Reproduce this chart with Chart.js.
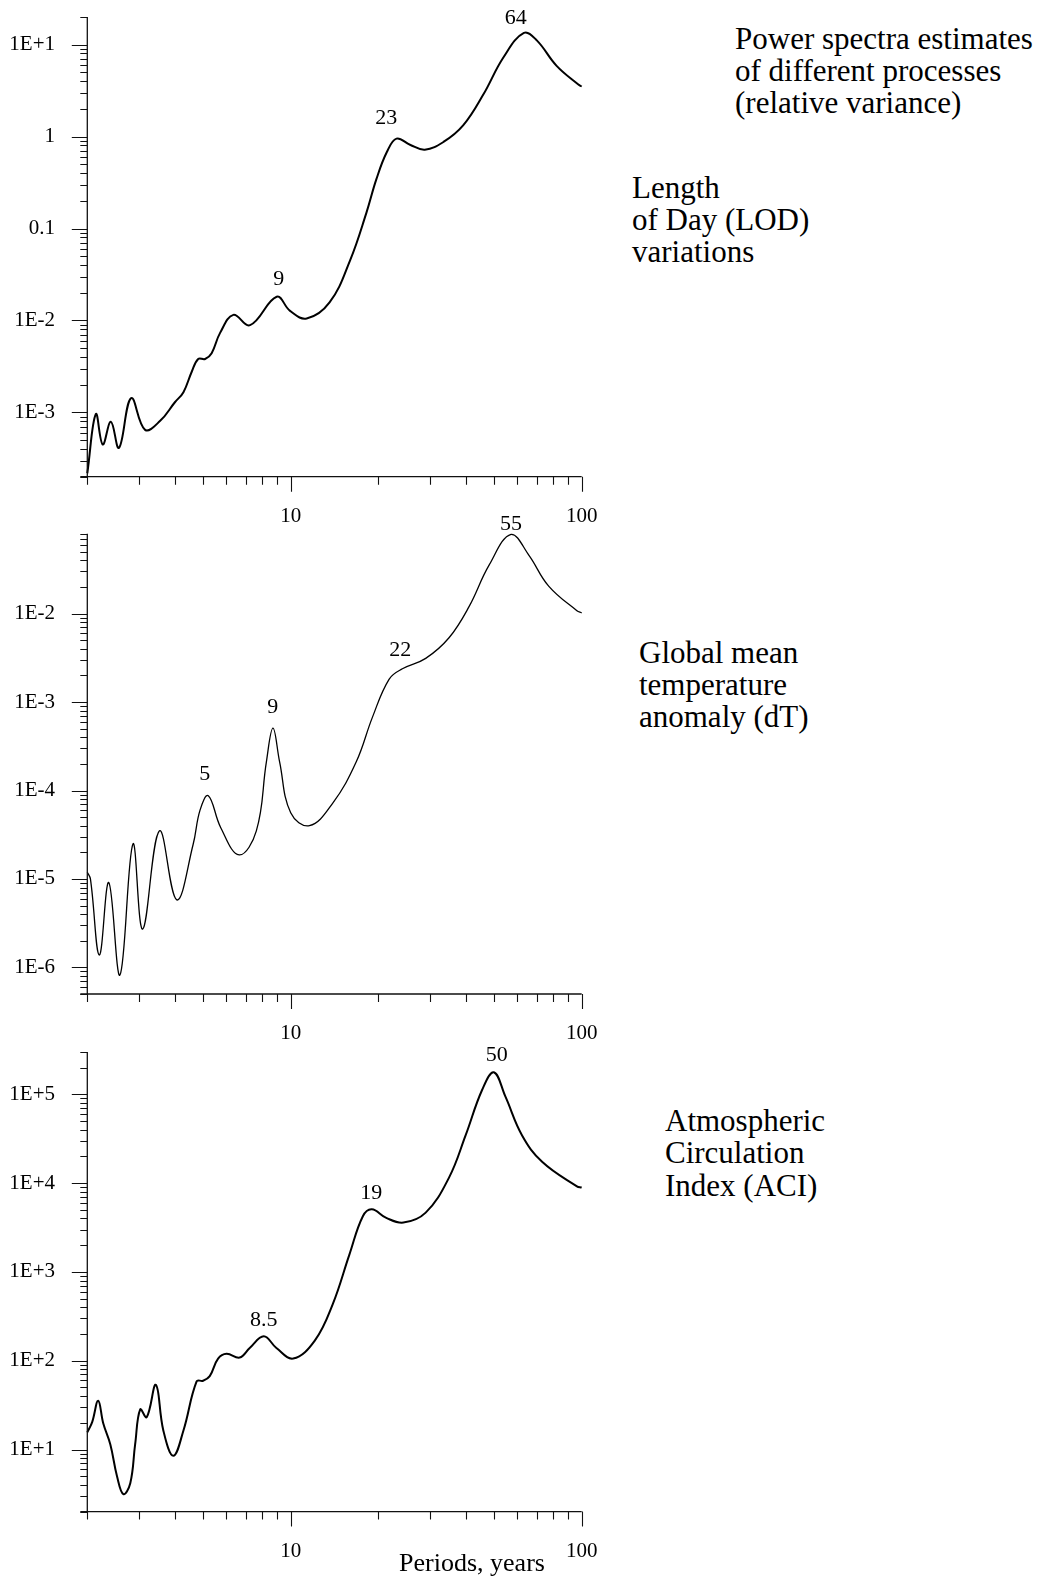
<!DOCTYPE html>
<html>
<head>
<meta charset="utf-8">
<title>Power spectra estimates</title>
<script src="https://cdn.jsdelivr.net/npm/chart.js@4.4.1/dist/chart.umd.min.js"></script>
<style>
  html, body { margin: 0; padding: 0; background: #fff; }
  #page {
    position: relative;
    width: 1045px;
    height: 1580px;
    overflow: hidden;
    font-family: 'Liberation Serif', 'Times New Roman', serif;
    color: #000;
  }
  #page canvas { position: absolute; left: 0; }
  .note { position: absolute; font-size: 31px; line-height: 32.3px; white-space: nowrap; }
  .axis-title { position: absolute; width: 240px; text-align: center; font-size: 26px; line-height: 30px; white-space: nowrap; }
</style>
</head>
<body>
<div id="page">
  <canvas id="lodChart" width="620" height="540" style="top:0px"></canvas>
  <canvas id="dtChart" width="620" height="560" style="top:500px"></canvas>
  <canvas id="aciChart" width="620" height="550" style="top:1030px"></canvas>

  <div class="note" style="left:735px; top:22.6px">Power spectra estimates<br>of different processes<br>(relative variance)</div>
  <div class="note" style="left:632px; top:171.6px">Length<br>of Day (LOD)<br>variations</div>
  <div class="note" style="left:639px; top:636.6px">Global mean<br>temperature<br>anomaly (dT)</div>
  <div class="note" style="left:665px; top:1105px">Atmospheric<br>Circulation<br>Index (ACI)</div>
  <div class="axis-title" style="left:352px; top:1548px">Periods, years</div>
</div>

<script>
// Shared x axis (periods, years)
const periodTicks = [10, 100];
const periodTickLabels = ['10', '100'];

// Length of Day (LOD) variations
const lodPeriods = [2.0, 2.14, 2.26, 2.41, 2.57, 2.83, 3.16, 3.56, 4.0, 4.28, 4.57, 4.81, 5.08, 5.35, 5.72, 6.35, 7.25, 8.95, 9.95, 11.35, 13.6, 16.0, 18.2, 19.7, 21.4, 23.1, 25.7, 28.9, 33.5, 39.2, 45.9, 53.8, 63.3, 70.1, 82.0, 97.4, 100];
const lodValues = [2.18e-4, 9.6e-4, 4.48e-4, 7.9e-4, 4.12e-4, 1.43e-3, 6.46e-4, 8.1e-4, 1.29e-3, 1.66e-3, 2.77e-3, 3.81e-3, 3.81e-3, 4.41e-3, 7.33e-3, 1.15e-2, 8.89e-3, 1.81e-2, 1.27e-2, 1.05e-2, 1.57e-2, 4.51e-2, 0.148, 0.344, 0.678, 0.95, 0.815, 0.72, 0.873, 1.33, 2.86, 7.24, 13.4, 11.1, 5.87, 3.68, 3.5];
const lodTicks = [10, 1, 0.1, 0.01, 0.001];
const lodTickLabels = ['1E+1', '1', '0.1', '1E-2', '1E-3'];
const lodPeakLabels = ['9', '23', '64'];
const lodPeakPeriods = [9.09, 21.3, 59.4];
const lodPeakValues = [0.0278, 1.57, 19.3];

// Global mean temperature anomaly (dT)
const dtPeriods = [2.0, 2.05, 2.2, 2.37, 2.59, 2.87, 3.1, 3.54, 4.06, 4.62, 4.88, 5.21, 5.75, 6.65, 7.62, 8.25, 8.69, 9.16, 10.0, 11.6, 13.95, 16.8, 19.1, 21.8, 24.2, 29.1, 35.0, 41.0, 48.0, 57.2, 65.8, 77.0, 96.3, 100];
const dtValues = [1.19e-5, 1.0e-5, 1.38e-6, 9.1e-6, 8.2e-7, 2.49e-5, 2.71e-6, 3.5e-5, 5.8e-6, 2.45e-5, 6.0e-5, 8.75e-5, 3.8e-5, 1.87e-5, 3.5e-5, 2.11e-4, 5.07e-4, 2.11e-4, 5.6e-5, 4.0e-5, 7.2e-5, 2.11e-4, 6.76e-4, 1.82e-3, 2.38e-3, 3.12e-3, 5.34e-3, 1.2e-2, 3.51e-2, 7.89e-2, 4.6e-2, 2.05e-2, 1.08e-2, 1.02e-2];
const dtTicks = [1e-2, 1e-3, 1e-4, 1e-5, 1e-6];
const dtTickLabels = ['1E-2', '1E-3', '1E-4', '1E-5', '1E-6'];
const dtPeakLabels = ['5', '9', '22', '55'];
const dtPeakPeriods = [5.07, 8.67, 23.8, 57.1];
const dtPeakValues = [1.54e-4, 8.86e-4, 3.9e-3, 0.1014];

// Atmospheric Circulation Index (ACI)
const aciPeriods = [2.0, 2.08, 2.18, 2.27, 2.4, 2.53, 2.66, 2.81, 2.92, 3.04, 3.2, 3.44, 3.65, 3.95, 4.28, 4.75, 5.0, 5.27, 5.63, 6.02, 6.68, 7.23, 8.08, 8.93, 10.2, 12.1, 13.95, 15.9, 17.7, 19.0, 21.3, 24.4, 29.1, 35.0, 39.9, 45.5, 49.9, 54.7, 62.4, 73.1, 96.3, 100];
const aciValues = [15.6, 20.5, 35.4, 19.6, 11.4, 5.0, 3.15, 4.17, 11.4, 28.3, 23.1, 53.5, 16.4, 8.5, 16.4, 58.6, 59.5, 67.1, 105.7, 119.5, 108.6, 139, 188, 139, 105.7, 168, 434, 1556, 4236, 5082, 4058, 3590, 4645, 11530, 34400, 112500, 177000, 93900, 34400, 17400, 9200, 8900];
const aciTicks = [1e5, 1e4, 1e3, 1e2, 1e1];
const aciTickLabels = ['1E+5', '1E+4', '1E+3', '1E+2', '1E+1'];
const aciPeakLabels = ['8.5', '19', '50'];
const aciPeakPeriods = [8.08, 18.9, 51.1];
const aciPeakValues = [288, 7650, 2.75e5];

const FONT = "'Liberation Serif', 'Times New Roman', serif";
const CANVAS_W = 620;
const AXIS_LEFT = 87.3;
const AXIS_RIGHT = 581.7;

// every 1..9 x 10^n value inside [min, max]
function logSteps(min, max) {
  const out = [];
  const e0 = Math.floor(Math.log10(min)) - 1;
  const e1 = Math.ceil(Math.log10(max)) + 1;
  for (let e = e0; e <= e1; e++) {
    for (let m = 1; m <= 9; m++) {
      const v = Number((m * Math.pow(10, e)).toPrecision(12));
      if (v >= min * (1 - 1e-9) && v <= max * (1 + 1e-9)) out.push(v);
    }
  }
  return out;
}

function isDecade(v) {
  const l = Math.log10(v);
  return Math.abs(l - Math.round(l)) < 1e-9;
}

// Axis lines, major/minor tick marks and peak annotations
const axisDecor = {
  id: 'axisDecor',
  afterDraw(chart, args, opts) {
    const { ctx, chartArea: a, scales: { x, y } } = chart;
    ctx.save();
    ctx.strokeStyle = '#111';
    ctx.lineWidth = 1.3;
    ctx.beginPath();
    ctx.moveTo(a.left, a.top);
    ctx.lineTo(a.left, a.bottom);
    ctx.moveTo(a.left - 7, a.bottom);
    ctx.lineTo(a.right, a.bottom);
    ctx.stroke();

    ctx.lineWidth = 1.1;
    ctx.beginPath();
    logSteps(y.min, y.max).forEach(v => {
      const py = Math.round(y.getPixelForValue(v)) + 0.5;
      const len = isDecade(v) ? 15.5 : 7;
      ctx.moveTo(a.left - len, py);
      ctx.lineTo(a.left, py);
    });
    logSteps(x.min, x.max).forEach(v => {
      const px = Math.round(x.getPixelForValue(v)) + 0.5;
      const len = isDecade(v) ? 15 : 8;
      ctx.moveTo(px, a.bottom);
      ctx.lineTo(px, a.bottom + len);
    });
    ctx.stroke();

    ctx.fillStyle = '#000';
    ctx.font = '22px ' + FONT;
    ctx.textAlign = 'center';
    ctx.textBaseline = 'middle';
    opts.labels.forEach((txt, i) => {
      ctx.fillText(txt, x.getPixelForValue(opts.periods[i]), y.getPixelForValue(opts.values[i]));
    });
    ctx.restore();
  }
};

function makeChart(canvasId, cfg) {
  const points = cfg.periods.map((p, i) => ({ x: p, y: cfg.values[i] }));
  return new Chart(document.getElementById(canvasId), {
    type: 'line',
    data: {
      datasets: [{
        data: points,
        borderColor: '#000',
        borderWidth: cfg.lineWidth,
        pointRadius: 0,
        tension: 0.4,
        fill: false,
        clip: false
      }]
    },
    options: {
      responsive: false,
      animation: false,
      events: [],
      layout: {
        autoPadding: false,
        padding: { top: cfg.areaTop, left: 0, right: CANVAS_W - AXIS_RIGHT, bottom: 0 }
      },
      plugins: {
        legend: { display: false },
        tooltip: { enabled: false },
        axisDecor: { labels: cfg.peakLabels, periods: cfg.peakPeriods, values: cfg.peakValues }
      },
      scales: {
        x: {
          type: 'logarithmic',
          min: 2,
          max: 100,
          grid: { display: false, drawTicks: false },
          border: { display: false },
          afterBuildTicks: s => { s.ticks = periodTicks.map(v => ({ value: v })); },
          afterFit: s => { s.height = cfg.xAxisHeight; s.paddingLeft = 0; s.paddingRight = 0; },
          ticks: {
            autoSkip: false,
            maxRotation: 0,
            padding: 27,
            color: '#000',
            font: { family: FONT, size: 21 },
            callback: v => periodTickLabels[periodTicks.indexOf(v)]
          }
        },
        y: {
          type: 'logarithmic',
          min: cfg.yMin,
          max: cfg.yMax,
          grid: { display: false, drawTicks: false },
          border: { display: false },
          afterBuildTicks: s => { s.ticks = cfg.ticks.map(v => ({ value: v })); },
          afterFit: s => { s.width = AXIS_LEFT; s.paddingTop = 0; s.paddingBottom = 0; },
          ticks: {
            autoSkip: false,
            padding: AXIS_LEFT - 55,
            color: '#000',
            font: { family: FONT, size: 21 },
            callback: v => cfg.tickLabels[cfg.ticks.indexOf(v)]
          }
        }
      }
    },
    plugins: [axisDecor]
  });
}

makeChart('lodChart', {
  periods: lodPeriods, values: lodValues,
  ticks: lodTicks, tickLabels: lodTickLabels,
  peakLabels: lodPeakLabels, peakPeriods: lodPeakPeriods, peakValues: lodPeakValues,
  yMin: 2e-4, yMax: 20, lineWidth: 2,
  areaTop: 16.9, xAxisHeight: 540 - 476.7
});

makeChart('dtChart', {
  periods: dtPeriods, values: dtValues,
  ticks: dtTicks, tickLabels: dtTickLabels,
  peakLabels: dtPeakLabels, peakPeriods: dtPeakPeriods, peakValues: dtPeakValues,
  yMin: 5e-7, yMax: 0.08, lineWidth: 1.3,
  areaTop: 33.8, xAxisHeight: 560 - 494
});

makeChart('aciChart', {
  periods: aciPeriods, values: aciValues,
  ticks: aciTicks, tickLabels: aciTickLabels,
  peakLabels: aciPeakLabels, peakPeriods: aciPeakPeriods, peakValues: aciPeakValues,
  yMin: 2, yMax: 3e5, lineWidth: 2,
  areaTop: 21.9, xAxisHeight: 550 - 481.6
});
</script>
</body>
</html>
